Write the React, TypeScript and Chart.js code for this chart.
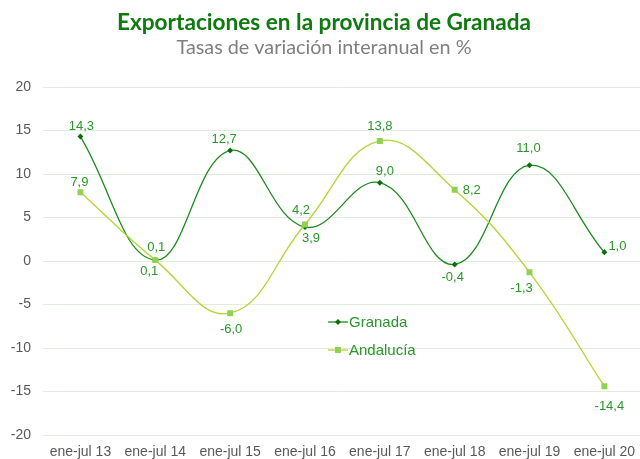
import React, { useEffect, useRef } from "react";
import { Chart, registerables } from "chart.js";

Chart.register(...registerables);

const titleText = "Exportaciones en la provincia de Granada";
const subtitleText = "Tasas de variación interanual en %";

const categories = [
  "ene-jul 13",
  "ene-jul 14",
  "ene-jul 15",
  "ene-jul 16",
  "ene-jul 17",
  "ene-jul 18",
  "ene-jul 19",
  "ene-jul 20",
];
const granada = [14.3, 0.1, 12.7, 3.9, 9.0, -0.4, 11.0, 1.0];
const andalucia = [7.9, 0.1, -6.0, 4.2, 13.8, 8.2, -1.3, -14.4];
const seriesNames = ["Granada", "Andalucía"];

const yMin = -20;
const yMax = 20;
const yStep = 5;

// label placement: [dx, dy, align]
const granadaLabelOffsets: [number, number, CanvasTextAlign][] = [
  [1, -10, "center"],
  [-6, 11, "center"],
  [-6, -11, "center"],
  [6, 11, "center"],
  [5, -11, "center"],
  [-2, 13, "center"],
  [-1, -17, "center"],
  [4, -6, "left"],
];
const andaluciaLabelOffsets: [number, number, CanvasTextAlign][] = [
  [-1, -10, "center"],
  [1, -13, "center"],
  [1, 16, "center"],
  [-4, -14, "center"],
  [0, -15, "center"],
  [8, 1, "left"],
  [-8, 16, "center"],
  [5, 20, "center"],
];

const GRANADA_LINE = "#1f8a1f";
const GRANADA_POINT = "#0b6e0b";
const ANDA_LINE = "#b4d334";
const ANDA_POINT = "#92d050";
const LABEL_COLOR = "#2a962a";
const TICK_COLOR = "#595959";
const GRID_COLOR = "#e1ece1";

const fmt = (v: number) => v.toFixed(1).replace(".", ",");

const decorPlugin = {
  id: "decor",
  afterDatasetsDraw(chart: any) {
    const ctx = chart.ctx as CanvasRenderingContext2D;
    const offsetsList = [granadaLabelOffsets, andaluciaLabelOffsets];
    ctx.save();
    ctx.font = "13px 'Liberation Sans', Arial, sans-serif";
    ctx.fillStyle = LABEL_COLOR;
    ctx.textBaseline = "middle";
    chart.data.datasets.forEach((ds: any, di: number) => {
      const meta = chart.getDatasetMeta(di);
      meta.data.forEach((pt: any, i: number) => {
        const [dx, dy, align] = offsetsList[di][i];
        ctx.textAlign = align;
        ctx.fillText(fmt(ds.data[i]), pt.x + dx, pt.y + dy);
      });
    });
    ctx.restore();
  },
  afterDraw(chart: any) {
    const ctx = chart.ctx as CanvasRenderingContext2D;
    const w = chart.width;
    ctx.save();
    // titles
    ctx.textAlign = "center";
    ctx.textBaseline = "alphabetic";
    ctx.fillStyle = "#0f7a0f";
    ctx.font = "bold 22.6px Lato, 'Open Sans', sans-serif";
    ctx.fillText(titleText, w / 2 + 1, 30);
    ctx.fillStyle = "#7f7f7f";
    ctx.font = "19.8px Lato, 'Open Sans', sans-serif";
    ctx.fillText(subtitleText, w / 2 + 1, 54);

    // legend
    const items = [
      { name: seriesNames[0], line: GRANADA_LINE, point: GRANADA_POINT, style: "rectRot", r: 3, y: 322 },
      { name: seriesNames[1], line: ANDA_LINE, point: ANDA_POINT, style: "rect", r: 4.2, y: 350 },
    ];
    items.forEach((it) => {
      ctx.strokeStyle = it.line;
      ctx.lineWidth = 1.3;
      ctx.beginPath();
      ctx.moveTo(328, it.y);
      ctx.lineTo(348, it.y);
      ctx.stroke();
      ctx.fillStyle = it.point;
      if (it.style === "rect") {
        const s = it.r * Math.SQRT1_2;
        ctx.fillRect(338 - s, it.y - s, 2 * s, 2 * s);
      } else {
        ctx.beginPath();
        ctx.moveTo(338, it.y - it.r);
        ctx.lineTo(338 + it.r, it.y);
        ctx.lineTo(338, it.y + it.r);
        ctx.lineTo(338 - it.r, it.y);
        ctx.closePath();
        ctx.fill();
      }
      ctx.fillStyle = LABEL_COLOR;
      ctx.font = "15px 'Liberation Sans', Arial, sans-serif";
      ctx.textAlign = "left";
      ctx.textBaseline = "middle";
      ctx.fillText(it.name, 349, it.y + 1);
    });
    ctx.restore();
  },
};

export default function App() {
  const canvasRef = useRef<HTMLCanvasElement | null>(null);

  useEffect(() => {
    const canvas = canvasRef.current;
    if (!canvas) return;
    const chart = new Chart(canvas, {
      type: "line",
      data: {
        labels: categories,
        datasets: [
          {
            label: seriesNames[0],
            data: granada,
            borderColor: GRANADA_LINE,
            backgroundColor: GRANADA_POINT,
            borderWidth: 1.3,
            pointStyle: "rectRot",
            pointRadius: 3,
            pointBorderWidth: 0,
            pointBackgroundColor: GRANADA_POINT,
            tension: 0.42,
            fill: false,
            order: 1,
          },
          {
            label: seriesNames[1],
            data: andalucia,
            borderColor: ANDA_LINE,
            backgroundColor: ANDA_POINT,
            borderWidth: 1.3,
            pointStyle: "rect",
            pointRadius: 4.2,
            pointBorderWidth: 0,
            pointBackgroundColor: ANDA_POINT,
            tension: 0.42,
            fill: false,
            order: 0,
          },
        ],
      },
      options: {
        responsive: false,
        animation: false,
        devicePixelRatio: 1,
        layout: { padding: { top: 87, right: 1.4, left: 0, bottom: 0 } },
        plugins: {
          legend: { display: false },
          title: { display: false },
          tooltip: { enabled: false },
        },
        scales: {
          x: {
            offset: true,
            grid: { display: false, drawTicks: false },
            border: { display: false },
            ticks: {
              color: TICK_COLOR,
              font: { family: "'Liberation Sans', Arial, sans-serif", size: 14 },
              padding: 9,
              maxRotation: 0,
              autoSkip: false,
            },
            afterFit: (scale: any) => {
              scale.height = 24;
            },
          },
          y: {
            min: yMin,
            max: yMax,
            grid: { color: GRID_COLOR, lineWidth: 1, drawTicks: false },
            border: { display: false },
            ticks: {
              stepSize: yStep,
              color: TICK_COLOR,
              font: { family: "'Liberation Sans', Arial, sans-serif", size: 14 },
              padding: 12,
            },
            afterFit: (scale: any) => {
              scale.width = 43;
            },
          },
        },
      },
      plugins: [decorPlugin],
    });
    return () => chart.destroy();
  }, []);

  return (
    <div
      style={{
        position: "fixed",
        left: 0,
        top: 0,
        width: 640,
        height: 459,
        overflow: "hidden",
        background: "#ffffff",
      }}
    >
      <canvas ref={canvasRef} width={646} height={459} style={{ display: "block" }} />
    </div>
  );
}
